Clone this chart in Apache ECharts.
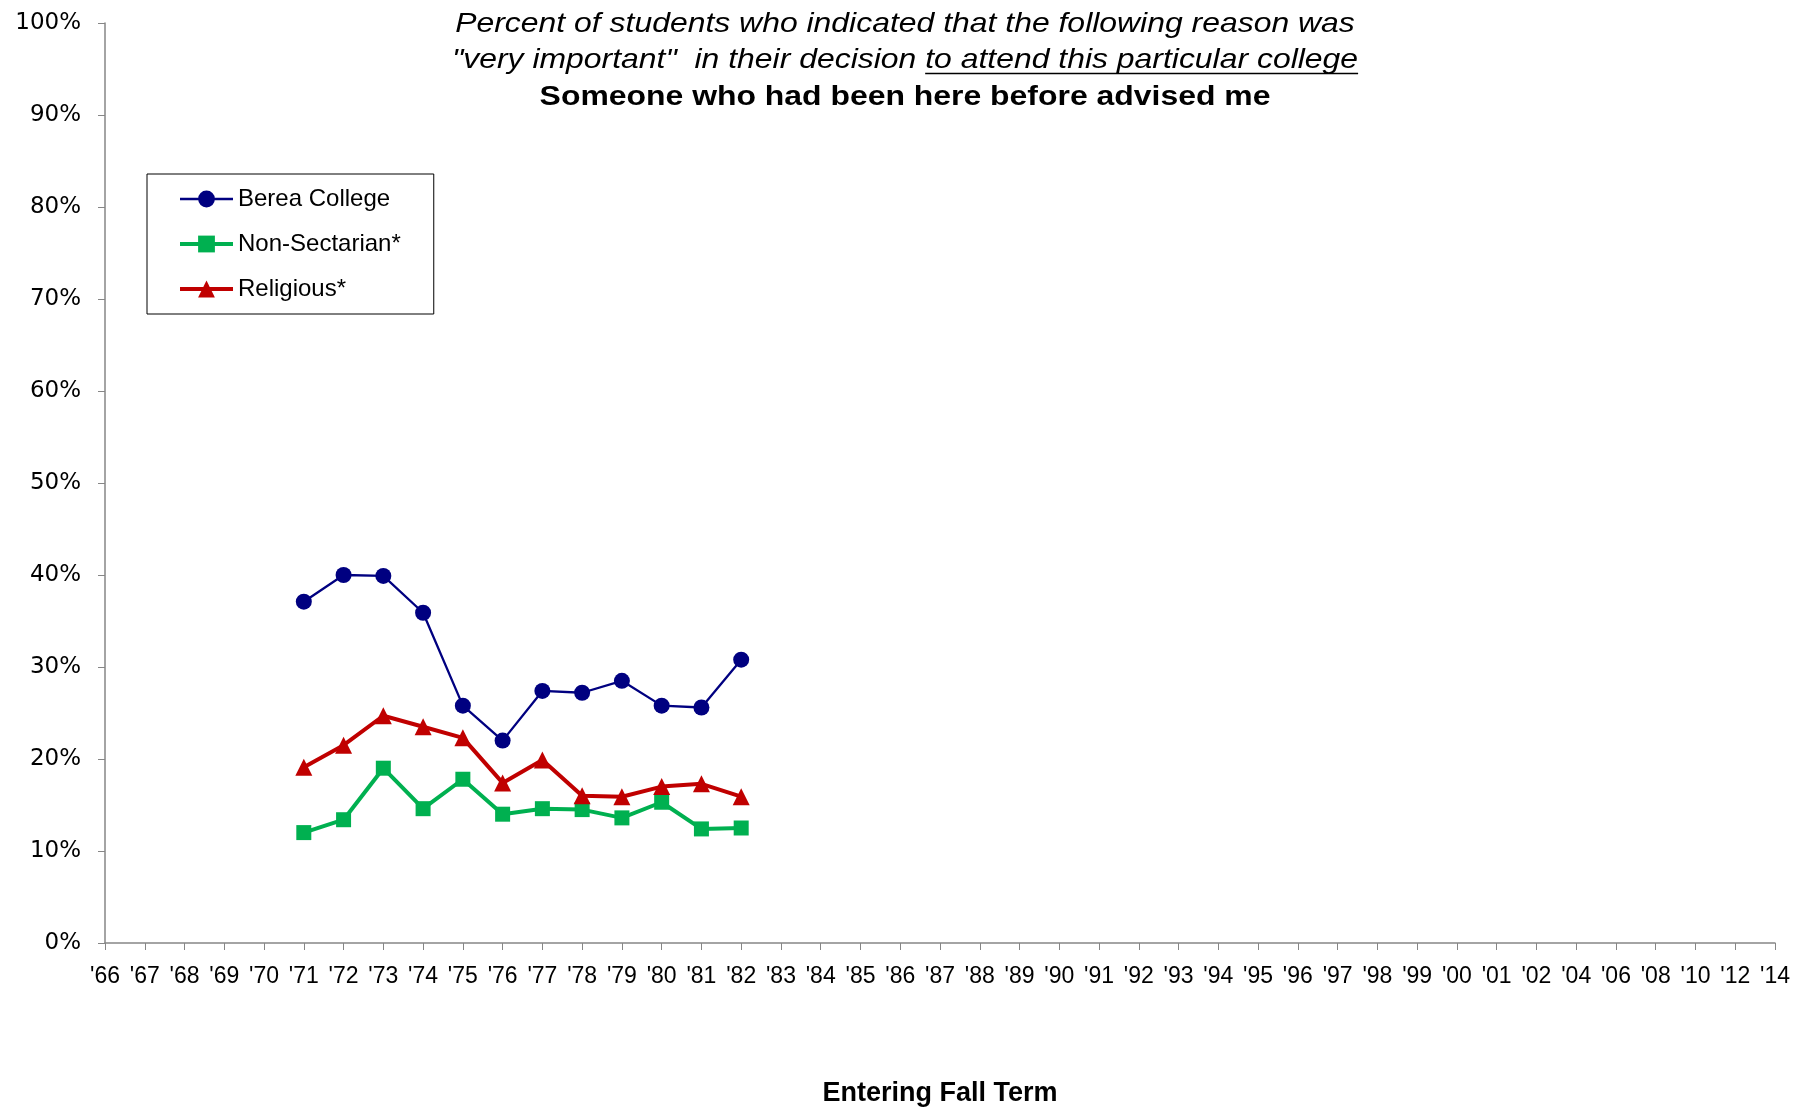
<!DOCTYPE html>
<html><head><meta charset="utf-8">
<script src="https://cdn.jsdelivr.net/npm/echarts/dist/echarts.min.js"></script>
<style>html,body{margin:0;padding:0;background:#fff}#c{width:1812px;height:1107px}</style>
</head><body><div id="c"></div>
<script>
// ---- data ----
const categories = ["'66","'67","'68","'69","'70","'71","'72","'73","'74","'75","'76","'77","'78","'79","'80","'81","'82","'83","'84","'85","'86","'87","'88","'89","'90","'91","'92","'93","'94","'95","'96","'97","'98","'99","'00","'01","'02","'04","'06","'08","'10","'12","'14"];
const dataYears = ["'71","'72","'73","'74","'75","'76","'77","'78","'79","'80","'81","'82"];
const bereaCollege = [37.1, 40.0, 39.9, 35.9, 25.8, 22.0, 27.4, 27.2, 28.5, 25.8, 25.6, 30.8];
const nonSectarian = [12.0, 13.4, 19.0, 14.6, 17.8, 14.0, 14.6, 14.5, 13.6, 15.3, 12.4, 12.5];
const religious = [19.1, 21.5, 24.7, 23.5, 22.3, 17.4, 19.9, 16.0, 15.9, 17.0, 17.3, 15.9];
const seriesNames = ['Berea College', 'Non-Sectarian*', 'Religious*'];
const yTicks = {min: 0, max: 100, interval: 10};
const titleLine1 = 'Percent of students who indicated that the following reason was';
const titleLine2a = '"very important"  in their decision ';
const titleLine2b = 'to attend this particular college';
const titleLine3 = 'Someone who had been here before advised me';
const xAxisName = 'Entering Fall Term';

// ---- styles ----
const ARIAL = '"Liberation Sans", Arial, sans-serif';
const italicFont = 'italic 28px ' + ARIAL;
const boldFont = 'bold 28px ' + ARIAL;
const cv = document.createElement('canvas').getContext('2d');
function tw(font, t){ cv.font = font; return cv.measureText(t).width; }
const w2a = tw(italicFont, titleLine2a), w2b = tw(italicFont, titleLine2b);
const split = -(w2a + w2b) / 2 + w2a;
const sx = 1.14;
const cx = 905;
const colors = ['#000080', '#00B050', '#C00000'];
const lineWidths = [2.3, 4, 4];

function pair(vals){ return dataYears.map((y, i) => [y, vals[i]]); }

const chart = echarts.init(document.getElementById('c'), null, {renderer: 'canvas'});
chart.setOption({
  animation: false,
  backgroundColor: '#fff',
  grid: {left: 105, right: 37, top: 23, bottom: 164, containLabel: false, outerBoundsMode: 'none'},
  legend: {
    orient: 'vertical', left: 147, top: 174,
    padding: [13, 33, 13, 31], itemGap: 21,
    itemWidth: 53, itemHeight: 21,
    borderColor: '#000', borderWidth: 1, backgroundColor: '#fff',
    textStyle: {fontFamily: ARIAL, fontSize: 24, color: '#000'},
    data: seriesNames.map((n, i) => ({name: n, lineStyle: {width: lineWidths[i], color: colors[i]}, itemStyle: {color: colors[i]}}))
  },
  xAxis: {
    type: 'category', data: categories, boundaryGap: false,
    name: xAxisName, nameLocation: 'middle', nameGap: 137,
    nameTextStyle: {fontFamily: ARIAL, fontSize: 27, fontWeight: 'bold', color: '#000'},
    axisLine: {lineStyle: {color: '#868686', width: 1.5}},
    axisTick: {show: true, interval: 0, length: 7, lineStyle: {color: '#868686'}},
    axisLabel: {interval: 0, margin: 22, fontFamily: ARIAL, fontSize: 23, color: '#000', hideOverlap: false},
    splitLine: {show: false}
  },
  yAxis: {
    type: 'value', min: yTicks.min, max: yTicks.max, interval: yTicks.interval,
    axisLine: {show: true, lineStyle: {color: '#868686', width: 1.5}},
    axisTick: {show: true, length: 7, lineStyle: {color: '#868686'}},
    axisLabel: {formatter: '{value}%', margin: 24, fontFamily: '"DejaVu Sans", sans-serif', fontSize: 23, color: '#000'},
    splitLine: {show: false}
  },
  series: [
    {name: seriesNames[0], type: 'line', data: pair(bereaCollege), symbol: 'circle', symbolSize: 16,
     lineStyle: {color: colors[0], width: lineWidths[0]}, itemStyle: {color: colors[0]}, emphasis: {disabled: true}},
    {name: seriesNames[1], type: 'line', data: pair(nonSectarian), symbol: 'rect', symbolSize: 15,
     lineStyle: {color: colors[1], width: lineWidths[1]}, itemStyle: {color: colors[1]}, emphasis: {disabled: true}},
    {name: seriesNames[2], type: 'line', data: pair(religious), symbol: 'triangle', symbolSize: 17,
     lineStyle: {color: colors[2], width: lineWidths[2]}, itemStyle: {color: colors[2]}, emphasis: {disabled: true}}
  ],
  graphic: [
    {type: 'group', x: cx, y: 0, scaleX: sx, children: [
      {type: 'text', x: 0, y: 24, style: {text: titleLine1, font: italicFont, fill: '#000', textAlign: 'center', textVerticalAlign: 'middle', align: 'center', verticalAlign: 'middle'}},
      {type: 'text', x: split, y: 60, style: {text: titleLine2a, font: italicFont, fill: '#000', textAlign: 'right', textVerticalAlign: 'middle', align: 'right', verticalAlign: 'middle'}},
      {type: 'text', x: split, y: 60, style: {text: titleLine2b, font: italicFont, fill: '#000', textAlign: 'left', textVerticalAlign: 'middle', align: 'left', verticalAlign: 'middle'}},
      {type: 'line', shape: {x1: split, y1: 73.5, x2: split + w2b, y2: 73.5}, style: {stroke: '#000', lineWidth: 1.6}},
      {type: 'text', x: 0, y: 97, style: {text: titleLine3, font: boldFont, fill: '#000', textAlign: 'center', textVerticalAlign: 'middle', align: 'center', verticalAlign: 'middle'}}
    ]}
  ]
});
</script>
</body></html>
